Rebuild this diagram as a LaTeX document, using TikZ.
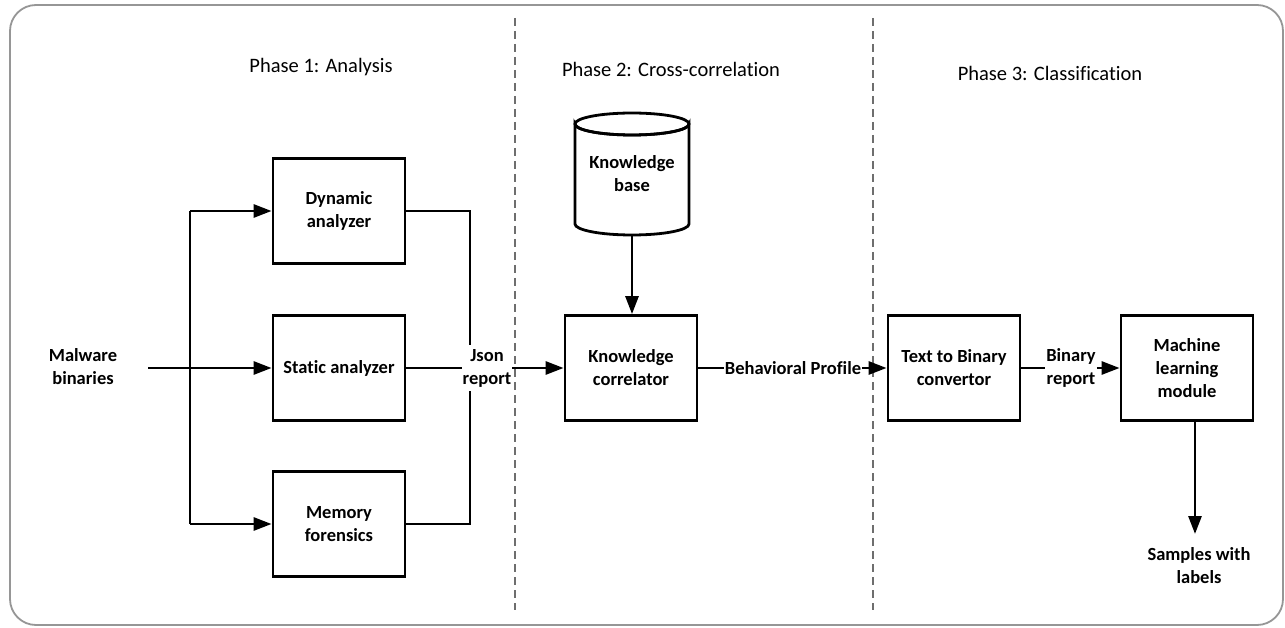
\documentclass[tikz,border=0pt]{standalone}
\usepackage{fontspec}
\setmainfont[Ligatures=CommonOff]{Carlito}
\usetikzlibrary{arrows.meta}
\definecolor{framegray}{RGB}{150,150,150}
\definecolor{dashgray}{RGB}{110,110,110}
\tikzset{
  block/.style={draw, line width=2.8pt, minimum width=132pt, minimum height=105pt,
    align=center, font=\fontsize{18.5}{23}\selectfont\bfseries, fill=white},
  lbl/.style={align=center, font=\fontsize{18.5}{23}\selectfont\bfseries, inner sep=1pt},
  phase/.style={font=\fontsize{20.5}{24}\selectfont},
  wire/.style={line width=2.8pt},
  arr/.style={wire, -{Triangle[length=18pt,width=13pt]}},
  divider/.style={dashgray, line width=1.6pt, dash pattern=on 8pt off 5pt}
}
\begin{document}
\begin{tikzpicture}[x=1pt, y=-1pt]
\useasboundingbox (0,0) rectangle (1285,628);
% outer frame
\draw[framegray, line width=1.8pt, rounded corners=26pt] (10,5) rectangle (1283,625);
% phase dividers
\draw[divider] (515,18) -- (515,610);
\draw[divider] (873,18) -- (873,610);
% phase titles
\node[phase] (p1) at (321,67) {Phase 1: Analysis};
\node[phase] (p2) at (671,69) {Phase 2: Cross-correlation};
\node[phase] (p3) at (1050,73) {Phase 3: Classification};

% phase 1
\node[lbl] (mal) at (83,367) {Malware\\binaries};
\node[block] (dyn) at (339,211) {Dynamic\\analyzer};
\node[block] (sta) at (339,368) {Static analyzer};
\node[block] (mem) at (339,524) {Memory\\forensics};
\node[lbl] (json) at (487,368) {Json\\report};
\coordinate (split) at (190,368);
\coordinate (start) at (148,368);

\draw[arr] (start) -- (sta.west);
\draw[wire] (split |- dyn.west) -- (split |- mem.west);
\draw[arr] (split |- dyn.west) -- (dyn.west);
\draw[arr] (split |- mem.west) -- (mem.west);

\coordinate (merge) at (470,368);
\draw[wire] (dyn.east) -| ([yshift=3pt]merge |- json.north);
\draw[wire] (mem.east) -| ([yshift=-3pt]merge |- json.south);
\draw[wire] (sta.east) -- (json.west);

% phase 2
\draw[line width=2.8pt, fill=white]
  (575,124) -- (575,224) arc[start angle=180, end angle=0, x radius=57, y radius=11]
  -- (689,124) arc[start angle=0, end angle=180, x radius=57, y radius=11] -- cycle;
\draw[line width=2.8pt] (632,124) ellipse[x radius=57, y radius=11];
\node[lbl, minimum width=114pt, minimum height=122pt, inner sep=0pt] (kb) at (632,174) {Knowledge\\base};
\node[block] (kc) at (631,368) {Knowledge\\correlator};
\draw[arr] (json.east) -- (kc.west);
\draw[arr] (632,235) -- (kc.north -| 632,0);

\node[lbl] (bp) at (793,368) {Behavioral Profile};
\draw[wire] (kc.east) -- (bp.west);

% phase 3
\node[block] (tb) at (954,368) {Text to Binary\\convertor};
\node[block] (ml) at (1187,368) {Machine\\learning\\module};
\node[lbl] (br) at (1071,368) {Binary\\report};
\node[lbl] (out) at (1199,566) {Samples with\\labels};
\draw[arr] (bp.east) -- (tb.west);
\draw[wire] (tb.east) -- (br.west);
\draw[arr] (br.east) -- (ml.west);
\draw[arr] (ml.south -| 1195,0) -- (1195,534);
\end{tikzpicture}
\end{document}
